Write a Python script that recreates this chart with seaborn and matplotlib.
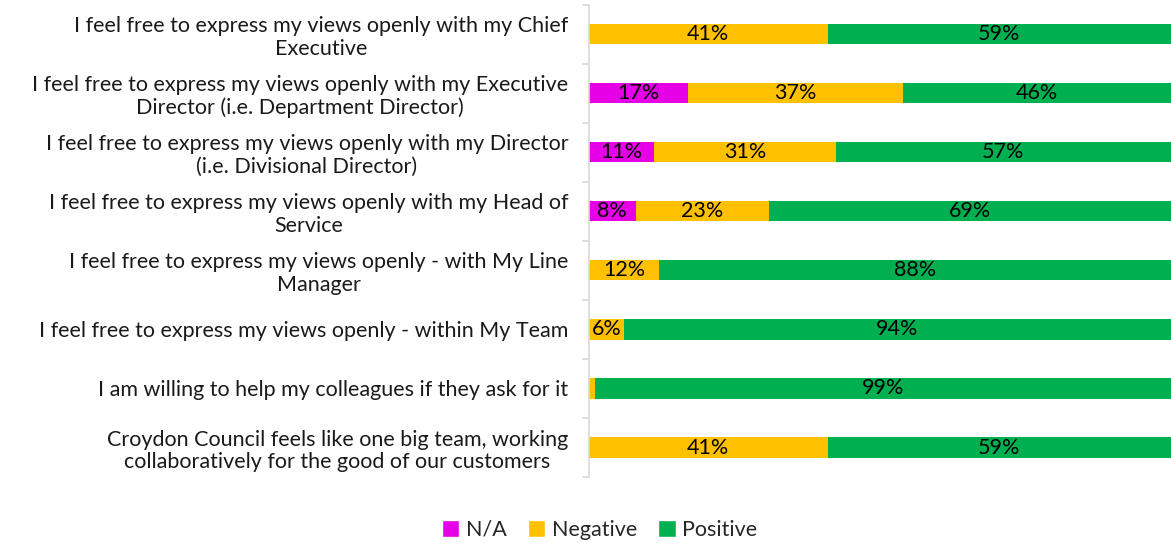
import pandas as pd
import numpy as np
import matplotlib
matplotlib.use("Agg")
import matplotlib.pyplot as plt
import seaborn as sns
from matplotlib.patches import Patch

questions = [
    "I feel free to express my views openly with my Chief\nExecutive",
    "I feel free to express my views openly with my Executive\nDirector (i.e. Department Director)",
    "I feel free to express my views openly with my Director\n(i.e. Divisional Director)",
    "I feel free to express my views openly with my Head of\nService",
    "I feel free to express my views openly - with My Line\nManager",
    "I feel free to express my views openly - within My Team",
    "I am willing to help my colleagues if they ask for it",
    "Croydon Council feels like one big team, working\ncollaboratively for the good of our customers",
]
na_vals = [0, 17, 11, 8, 0, 0, 0, 0]
negative_vals = [41, 37, 31, 23, 12, 6, 1, 41]
positive_vals = [59, 46, 57, 69, 88, 94, 99, 59]

series_names = ["N/A", "Negative", "Positive"]
colors = {"N/A": "#E600E6", "Negative": "#FFC000", "Positive": "#00B050"}

sns.set_theme(style="white")
plt.rcParams["font.family"] = ["Lato", "DejaVu Sans"]

df = pd.DataFrame({
    "question": questions,
    "N/A": na_vals,
    "Negative": negative_vals,
    "Positive": positive_vals,
})
# 100% stacked: scale each row to its total
total = df[series_names].sum(axis=1)
df["end_na"] = df["N/A"] / total * 100
df["end_neg"] = (df["N/A"] + df["Negative"]) / total * 100
df["end_pos"] = 100.0

fig = plt.figure(figsize=(11.71, 5.43), dpi=100)
ax = fig.add_axes([0.503, 0.1215, 0.497, 0.8695])

for col, name in [("end_pos", "Positive"), ("end_neg", "Negative"), ("end_na", "N/A")]:
    sns.barplot(data=df, x=col, y="question", color=colors[name], width=0.34,
                saturation=1, ax=ax, edgecolor="none", linewidth=0)

# segment labels
for i, row in df.iterrows():
    start = 0
    for name in series_names:
        v = row[name] / total[i] * 100
        if row[name] >= 2:
            ax.text(start + v / 2, i, f"{row[name]}%", ha="center", va="center",
                    fontsize=15.5, color="black")
        start += v

ax.set_xlim(0, 100)
ax.set_ylim(7.5, -0.5)
ax.set_xlabel("")
ax.set_ylabel("")
ax.set_xticks([])

sns.despine(ax=ax, top=True, right=True, bottom=True)
ax.spines["left"].set_color("#d9d9d9")
ax.spines["left"].set_linewidth(1.2)

ax.set_yticks(range(len(questions)))
ax.set_yticklabels(questions, fontsize=15.5, color="#1a1a1a", multialignment="center",
                   linespacing=1.15)
ax.tick_params(axis="y", which="major", length=0, pad=15)
ax.set_yticks(np.arange(-0.5, len(questions), 1.0), minor=True)
ax.tick_params(axis="y", which="minor", length=5, color="#d9d9d9", width=1.2, left=True)

handles = [Patch(facecolor=colors[n], label=n) for n in series_names]
fig.legend(handles=handles, loc="lower center", bbox_to_anchor=(0.512, -0.03), ncol=3,
           frameon=False, fontsize=15.5, handlelength=0.8, handleheight=0.8,
           handletextpad=0.3, columnspacing=1.0)

fig.savefig("out.png", dpi=100)
